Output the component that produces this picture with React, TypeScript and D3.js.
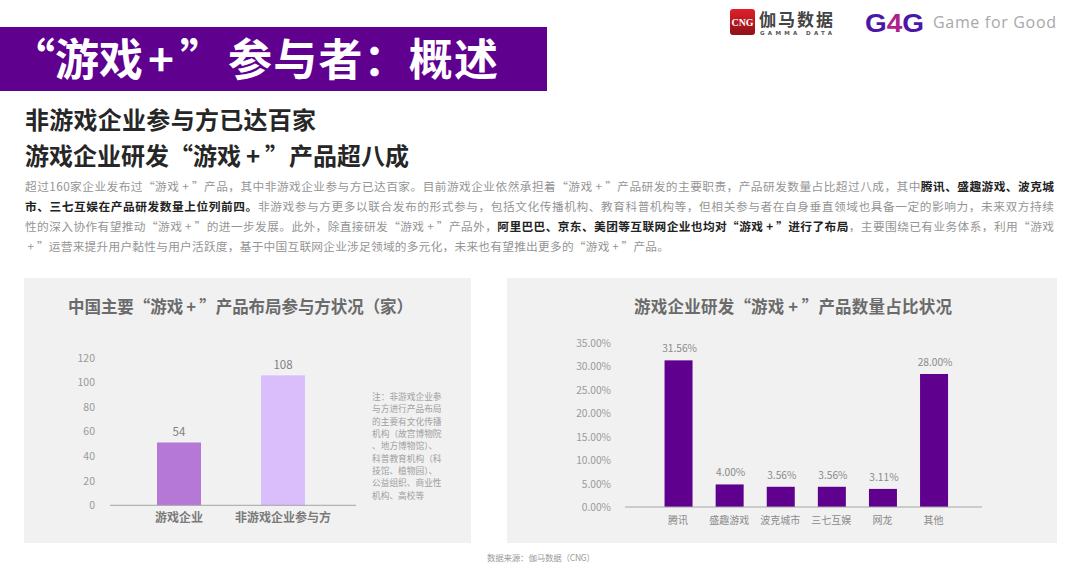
import React from "react";
import * as d3 from "d3";

const CJK = '"Noto Sans CJK SC","Noto Sans",sans-serif';
const PURPLE = "#5f008f";

const bannerGame = "“游戏";
const bannerPlus = "+";
const bannerQuoteClose = "”";
const bannerRight = "参与者：概述";
const headings = ["非游戏企业参与方已达百家", "游戏企业研发“游戏+”产品超八成"];

type Run = [string, boolean];
const bodyLines: Run[][] = [
  [["超过160家企业发布过“游戏+”产品，其中非游戏企业参与方已达百家。目前游戏企业依然承担着“游戏+”产品研发的主要职责，产品研发数量占比超过八成，其中", false], ["腾讯、盛趣游戏、波克城", true]],
  [["市、三七互娱在产品研发数量上位列前四。", true], ["非游戏参与方更多以联合发布的形式参与，包括文化传播机构、教育科普机构等，但相关参与者在自身垂直领域也具备一定的影响力，未来双方持续", false]],
  [["性的深入协作有望推动“游戏+”的进一步发展。此外，除直接研发“游戏+”产品外，", false], ["阿里巴巴、京东、美团等互联网企业也均对“游戏+”进行了布局", true], ["，主要围绕已有业务体系，利用“游戏", false]],
  [["+”运营来提升用户黏性与用户活跃度，基于中国互联网企业涉足领域的多元化，未来也有望推出更多的“游戏+”产品。", false]],
];
const bodyWidths = [1029, 1029, 1029, 644];

const leftTitle = "中国主要“游戏+”产品布局参与方状况（家）";
const leftCats = ["游戏企业", "非游戏企业参与方"];
const leftBars = [51, 105.5];
const leftLabels = ["54", "108"];
const leftColors = ["#b578d6", "#dabdfb"];
const leftTicks = [0, 20, 40, 60, 80, 100, 120];
const noteLines = ["注：非游戏企业参", "与方进行产品布局", "的主要有文化传播", "机构（故宫博物院", "、地方博物馆）、", "科普教育机构（科", "技馆、植物园）、", "公益组织、商业性", "机构、高校等"];

const rightTitle = "游戏企业研发“游戏+”产品数量占比状况";
const rightCats = ["腾讯", "盛趣游戏", "波克城市", "三七互娱", "网龙", "其他"];
const rightBars = [31.2, 4.8, 4.3, 4.3, 3.85, 28.3];
const rightLabels = ["31.56%", "4.00%", "3.56%", "3.56%", "3.11%", "28.00%"];
const rightTicks = [0, 5, 10, 15, 20, 25, 30, 35];

const source = "数据来源：伽马数据（CNG）";

const pad = (s: string) => s.replace(/\+/g, "\u2009+\u2009");

const yL = d3.scaleLinear().domain([0, 120]).range([505.3, 357.5]);
const xL = d3.scaleBand<string>().domain(leftCats).range([105, 357]).paddingInner(0.577).paddingOuter(0.5);
const yR = d3.scaleLinear().domain([0, 35]).range([507, 342.5]);
const xR = d3.scaleBand<string>().domain(rightCats).range([639, 973.6]).paddingInner(0.452).paddingOuter(0.5);

export default function App() {
  return (
    <svg width={1080} height={576} style={{ position: "absolute", left: 0, top: 0, background: "#fff" }} fontFamily={CJK}>
      <defs>
        <linearGradient id="cng" x1="0" y1="0" x2="0" y2="1">
          <stop offset="0" stopColor="#e0202a" />
          <stop offset="1" stopColor="#8e1218" />
        </linearGradient>
      </defs>
      <rect x={0} y={27} width={547} height={64} fill={PURPLE} />
      <text y={75.5} fontSize={44} fontWeight={700} fill="#fff">
        <tspan x={11}>{bannerGame}</tspan>
        <tspan x={148}>{bannerPlus}</tspan>
        <tspan x={180}>{bannerQuoteClose}</tspan>
      </text>
      <text x={228} y={75.5} fontSize={44} fontWeight={700} fill="#fff" textLength={270}>{bannerRight}</text>

      {/* logos */}
      <rect x={730} y={9} width={25} height={26} rx={3} fill="url(#cng)" />
      <text x={742.5} y={26} fontSize={10.5} fontWeight={700} fill="#fff" textAnchor="middle" fontFamily="Liberation Serif" textLength={22} lengthAdjust="spacingAndGlyphs">CNG</text>
      <text x={759} y={25.5} fontSize={17} fontWeight={700} fill="#444" textLength={74}>伽马数据</text>
      <text x={760} y={35} fontSize={5.5} fontWeight={700} fill="#555" textLength={72} fontFamily="DejaVu Sans">GAMMA DATA</text>
      <text x={865} y={31.5} fontSize={26} fontWeight={700} fontFamily="Liberation Sans" textLength={59} lengthAdjust="spacingAndGlyphs">
        <tspan fill="#4b17a8">G</tspan><tspan fill="#b0208a">4</tspan><tspan fill="#4b17a8">G</tspan>
      </text>
      <text x={933} y={28} fontSize={16} fill="#a8a8a8" fontFamily="Open Sans" textLength={123}>Game for Good</text>

      {headings.map((h, i) => (
        <text key={h} x={25} y={129 + i * 36} fontSize={24} fontWeight={700} fill="#262626" textLength={i === 0 ? 291 : 384}>{pad(h)}</text>
      ))}

      {bodyLines.map((line, i) => (
        <text key={i} x={25} y={191 + i * 20} fontSize={11.7} fill="#959595" textLength={bodyWidths[i]}>
          {line.map(([t, b], j) => (
            <tspan key={j} fontWeight={b ? 700 : 400} fill={b ? "#222" : "#959595"}>{pad(t)}</tspan>
          ))}
        </text>
      ))}

      {/* left panel */}
      <rect x={24} y={278} width={447} height={265} fill="#f1f1f1" />
      <text x={68} y={313} fontSize={16.5} fontWeight={700} fill="#6b6b6b" textLength={345}>{pad(leftTitle)}</text>
      {leftTicks.map((t) => (
        <text key={t} x={95} y={yL(t) + 4} fontSize={10.5} fill="#9a9a9a" textAnchor="end">{t}</text>
      ))}
      {leftCats.map((c, i) => (
        <g key={c}>
          <rect x={xL(c)} y={yL(leftBars[i])} width={xL.bandwidth()} height={yL(0) - yL(leftBars[i])} fill={leftColors[i]} />
          <text x={xL(c)! + xL.bandwidth() / 2} y={yL(leftBars[i]) - 6.5} fontSize={11.5} fill="#808080" textAnchor="middle">{leftLabels[i]}</text>
          <text x={xL(c)! + xL.bandwidth() / 2} y={522} fontSize={12} fontWeight={700} fill="#7a7a7a" textAnchor="middle">{c}</text>
        </g>
      ))}
      <line x1={110} x2={356} y1={505.3} y2={505.3} stroke="#a6a6a6" />
      {noteLines.map((n, i) => (
        <text key={n} x={372} y={400 + i * 12.35} fontSize={8.7} fill="#a0a0a0">{n}</text>
      ))}

      {/* right panel */}
      <rect x={507} y={278} width={550} height={265} fill="#f1f1f1" />
      <text x={634} y={313} fontSize={16.5} fontWeight={700} fill="#6b6b6b" textLength={318}>{pad(rightTitle)}</text>
      {rightTicks.map((t) => (
        <text key={t} x={611} y={yR(t) + 4} fontSize={10.2} fill="#9a9a9a" textAnchor="end">{t.toFixed(2)}%</text>
      ))}
      {rightCats.map((c, i) => (
        <g key={c}>
          <rect x={xR(c)} y={yR(rightBars[i])} width={xR.bandwidth()} height={yR(0) - yR(rightBars[i])} fill={PURPLE} />
          <text x={xR(c)! + xR.bandwidth() / 2 + 1} y={yR(rightBars[i]) - 8} fontSize={10.2} fill="#8a8a8a" textAnchor="middle">{rightLabels[i]}</text>
          <text x={xR(c)! + xR.bandwidth() / 2 - 0.5} y={524} fontSize={10} fill="#8a8a8a" textAnchor="middle">{c}</text>
        </g>
      ))}
      <line x1={625} x2={982} y1={507} y2={507} stroke="#a6a6a6" />

      <text x={487} y={561} fontSize={8.5} fill="#9a9a9a" textLength={108}>{source}</text>
    </svg>
  );
}
